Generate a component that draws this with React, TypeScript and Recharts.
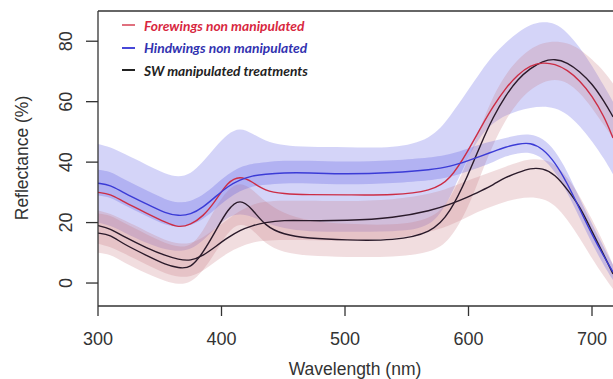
import { ComposedChart, Area, Line, XAxis, YAxis, ReferenceLine } from 'recharts';

// wavelength samples (nm)
const wavelengths = [300, 310, 320, 340, 355, 365, 375, 385, 395, 405, 415, 425, 435, 450, 470, 500, 540, 570, 585, 600, 610, 620, 630, 640, 650, 660, 670, 680, 690, 700, 710, 717];

// mean reflectance lines (%)
const forewingsNM = [30, 29.5, 27, 23, 20, 18.3, 19.3, 22, 27, 33.5, 35.5, 33.5, 30.5, 29.5, 29.2, 29.2, 29, 30.5, 34, 44, 51.5, 58.5, 64.5, 69, 72, 73, 72.5, 70.5, 67, 62, 55, 48];
const hindwingsNM = [33, 32.5, 30, 26, 23, 22.2, 22.6, 25, 28.5, 32, 34.2, 35.5, 36, 36.5, 36.5, 36, 36.5, 37.5, 38.5, 40.5, 42, 43.5, 45, 46, 46.5, 44.5, 40, 33, 24.5, 16, 8.5, 3.6];
const swForewing = [16.5, 16, 13, 9, 6, 5, 4.8, 10, 17, 24.5, 28, 24.5, 19, 16, 14.8, 14.2, 14, 16.5, 23, 36, 46, 55, 62, 67.5, 71, 73.5, 74.2, 73, 70, 66, 60, 55];
const swHindwing = [19, 18, 15.5, 11.5, 9, 7.8, 7.3, 9, 12, 15, 17.5, 19, 20, 20.8, 20.6, 20.6, 21.5, 24, 26, 28.5, 30.5, 32.5, 35, 36.5, 38, 38, 36, 31, 25.5, 17, 9, 3];

// shaded bands (low / high)
const lavHi = [46, 45, 43, 39, 36, 35, 36, 40, 45, 49.5, 51.5, 49.5, 47, 45.5, 45, 45, 44.5, 47.5, 55, 64, 70, 75.5, 79.5, 83, 85.5, 86.5, 86, 83, 78, 72, 65, 60];
const lavLo = [20, 19, 17, 13, 11, 10.5, 11, 14, 18, 22, 23, 22, 20, 18, 17, 17, 17, 18, 28, 42, 49, 53, 55.5, 57, 58, 58.5, 58, 56, 52, 47, 41, 36];
const blueHi = [37.5, 37, 34.5, 30.5, 27.5, 26.5, 27, 29, 32.5, 36, 38.5, 39.5, 40, 40.5, 40.5, 40, 40.5, 41.5, 42.5, 44.5, 46, 47, 48, 49, 49.3, 48, 44, 37, 28, 19.5, 11.5, 6];
const blueLo = [29, 28.5, 26, 22, 19, 18.5, 19, 21, 24.5, 28, 30.5, 32, 32.5, 33, 33, 32.5, 33, 34, 35, 37, 38.5, 40, 42, 43, 43.3, 41.5, 37, 30, 21.5, 13, 5.5, 1];
const redHi1 = [23, 22.5, 20, 16, 13, 12, 12, 17, 25, 31, 33.5, 31, 27, 23, 20.5, 19.5, 19, 21, 27, 41, 52, 62, 69, 74, 77.5, 79.5, 80, 79.5, 77.5, 74, 70, 66];
const redLo1 = [10, 9.5, 7, 3, 0.5, -0.5, 0, 4, 10, 17, 20, 18, 13, 10, 9, 8.6, 8.5, 10, 14, 25, 36, 46, 54, 60, 64, 66.5, 67.5, 66.5, 63, 58, 52, 48];
const redHi2 = [24, 23, 21, 17, 14, 13, 13, 15, 18, 21, 24, 26, 27, 27.3, 27.2, 27, 27.5, 29.5, 31.5, 34, 35.5, 37, 38.5, 40, 41, 41, 39.5, 35, 29, 21, 13, 6];
const redLo2 = [13, 12, 10, 6, 3, 2, 2, 4, 7, 10, 12, 13.5, 14, 14.3, 14.2, 14, 14.5, 17, 19, 22, 24, 25.5, 27, 28, 28.5, 28, 26, 21, 15, 8, 2, -2];

const xTicks = [300, 400, 500, 600, 700];
const yTicks = [0, 20, 40, 60, 80];

const legendItems = [
  { label: 'Forewings non manipulated', line: '#e0707e', text: '#d8283f' },
  { label: 'Hindwings non manipulated', line: '#4848d8', text: '#3232b0' },
  { label: 'SW manipulated treatments', line: '#222222', text: '#222222' },
];

const data = wavelengths.map((nm, i) => ({
  nm,
  fore: forewingsNM[i],
  hind: hindwingsNM[i],
  swF: swForewing[i],
  swH: swHindwing[i],
  lav: [lavLo[i], lavHi[i]],
  blueBand: [blueLo[i], blueHi[i]],
  red1: [redLo1[i], redHi1[i]],
  red2: [redLo2[i], redHi2[i]],
}));

const FONT = '"Liberation Sans", Arial, sans-serif';

function XTick(props: any) {
  const { x, y, payload } = props;
  return (
    <text x={x} y={y + 27} textAnchor="middle" fontSize={18} fill="#333" fontFamily={FONT}>
      {payload.value}
    </text>
  );
}

function YTick(props: any) {
  const { x, y, payload } = props;
  const tx = x - 18;
  return (
    <text x={tx} y={y} transform={`rotate(-90 ${tx} ${y})`} textAnchor="middle" dominantBaseline="central" fontSize={18} fill="#333" fontFamily={FONT}>
      {payload.value}
    </text>
  );
}

function LegendBox() {
  return (
    <div style={{ position: 'absolute', left: 122, top: 14, fontFamily: 'Lato, sans-serif', fontStyle: 'italic', fontWeight: 700, fontSize: 13.8 }}>
      {legendItems.map((it) => (
        <div key={it.label} style={{ display: 'flex', alignItems: 'center', height: 22.5 }}>
          <span style={{ display: 'inline-block', width: 13, height: 2, background: it.line, marginRight: 9 }} />
          <span style={{ color: it.text, whiteSpace: 'nowrap' }}>{it.label}</span>
        </div>
      ))}
    </div>
  );
}

export default function App() {
  return (
    <div style={{ position: 'absolute', left: 0, top: 0, width: 613, height: 379, background: '#fff', overflow: 'hidden' }}>
      <ComposedChart width={613} height={379} data={data} margin={{ top: 11, right: 0, bottom: 0, left: 0 }}>
        <XAxis
          dataKey="nm"
          type="number"
          domain={[300, 717]}
          ticks={xTicks}
          allowDataOverflow
          height={73}
          tickSize={10}
          stroke="#333"
          strokeWidth={1.3}
          tick={<XTick />}
          label={{
            content: () => (
              <text x={355} y={375} textAnchor="middle" fontSize={17.5} fill="#333" fontFamily={FONT}>
                Wavelength (nm)
              </text>
            ),
          }}
        />
        <YAxis
          type="number"
          domain={[-7.6, 90]}
          ticks={yTicks}
          allowDataOverflow
          width={98}
          tickSize={12}
          stroke="#333"
          strokeWidth={1.3}
          tick={<YTick />}
          label={{
            content: () => (
              <text x={22} y={158} transform="rotate(-90 22 158)" textAnchor="middle" dominantBaseline="central" fontSize={17.5} fill="#333" fontFamily={FONT}>
                Reflectance (%)
              </text>
            ),
          }}
        />
        <ReferenceLine y={90} stroke="#333" strokeWidth={1.3} />
        <Area dataKey="lav" type="basis" stroke="none" fill="#7b7bea" fillOpacity={0.33} isAnimationActive={false} />
        <Area dataKey="red1" type="basis" stroke="none" fill="#c87880" fillOpacity={0.25} isAnimationActive={false} />
        <Area dataKey="red2" type="basis" stroke="none" fill="#c87880" fillOpacity={0.25} isAnimationActive={false} />
        <Area dataKey="blueBand" type="basis" stroke="none" fill="#5050e0" fillOpacity={0.26} isAnimationActive={false} />
        <Line dataKey="swH" type="basis" stroke="#2a1a2a" strokeWidth={1.4} dot={false} isAnimationActive={false} />
        <Line dataKey="swF" type="basis" stroke="#2a1a2a" strokeWidth={1.4} dot={false} isAnimationActive={false} />
        <Line dataKey="fore" type="basis" stroke="#cc2d45" strokeWidth={1.4} dot={false} isAnimationActive={false} />
        <Line dataKey="hind" type="basis" stroke="#3b3bd6" strokeWidth={1.4} dot={false} isAnimationActive={false} />
      </ComposedChart>
      <LegendBox />
    </div>
  );
}
